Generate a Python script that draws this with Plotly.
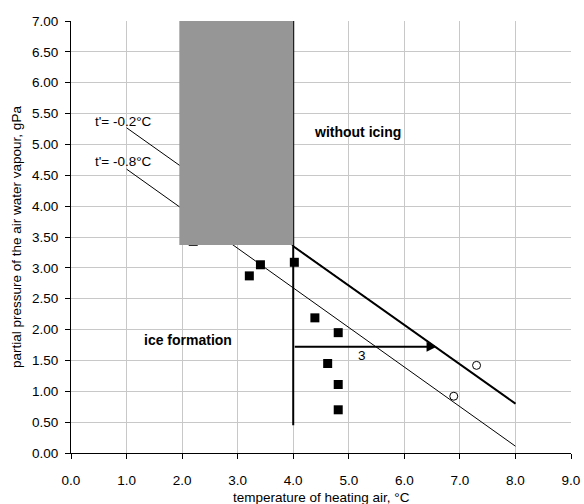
import plotly.graph_objects as go

# Data
squares_x = [2.2, 3.21, 3.41, 4.02, 4.39, 4.81, 4.62, 4.81, 4.81]
squares_y = [3.43, 2.87, 3.05, 3.09, 2.19, 1.95, 1.45, 1.11, 0.70]
circles_x = [6.89, 7.30]
circles_y = [0.92, 1.42]

line_02_x = [1.0, 8.0]
line_02_y = [5.27, 0.80]
line_02_thick_x = [4.0, 8.0]
line_02_thick_y = [3.35, 0.80]
line_08_x = [1.0, 8.0]
line_08_y = [4.60, 0.11]
boundary_x = [4.0, 4.0]
boundary_y = [0.45, 7.0]
arrow_x = [4.0, 6.58]
arrow_y = [1.72, 1.72]
cover_x = [1.95, 4.0]
cover_y = [3.37, 7.0]

x_ticks = [0, 1, 2, 3, 4, 5, 6, 7, 8, 9]
y_ticks = [0, 0.5, 1, 1.5, 2, 2.5, 3, 3.5, 4, 4.5, 5, 5.5, 6, 6.5, 7]

FONT = "Liberation Sans, Arial, sans-serif"
FS = 13.5

fig = go.Figure()
fig.add_trace(go.Scatter(x=line_02_x, y=line_02_y, mode="lines",
                         line=dict(color="black", width=1), showlegend=False))
fig.add_trace(go.Scatter(x=line_08_x, y=line_08_y, mode="lines",
                         line=dict(color="black", width=1), showlegend=False))
fig.add_trace(go.Scatter(x=line_02_thick_x, y=line_02_thick_y, mode="lines",
                         line=dict(color="black", width=2), showlegend=False))
fig.add_trace(go.Scatter(x=boundary_x, y=boundary_y, mode="lines",
                         line=dict(color="black", width=2), showlegend=False))
fig.add_trace(go.Scatter(x=squares_x, y=squares_y, mode="markers",
                         marker=dict(symbol="square", size=9, color="black"),
                         showlegend=False))
fig.add_trace(go.Scatter(x=circles_x, y=circles_y, mode="markers",
                         marker=dict(symbol="circle-open", size=8, color="black",
                                     line=dict(width=1)),
                         showlegend=False))

fig.add_shape(type="rect", x0=cover_x[0], x1=cover_x[1], y0=cover_y[0], y1=cover_y[1],
              xref="x", yref="y", fillcolor="#969696", line=dict(width=0), layer="above")

fig.add_annotation(x=arrow_x[1], y=arrow_y[1], ax=arrow_x[0], ay=arrow_y[0],
                   xref="x", yref="y", axref="x", ayref="y", text="",
                   showarrow=True, arrowhead=2, arrowsize=1, arrowwidth=2,
                   arrowcolor="black", standoff=0)

texts = [
    dict(x=5.23, y=1.58, text="3", anchor="center", size=FS),
    dict(x=4.33, y=5.2, text="<b>without icing</b>", anchor="left", size=14),
    dict(x=1.27, y=1.83, text="<b>ice formation</b>", anchor="left", size=14),
    dict(x=0.39, y=5.37, text="t'= -0.2°C", anchor="left", size=FS),
    dict(x=0.39, y=4.73, text="t'= -0.8°C", anchor="left", size=FS),
]
for t in texts:
    fig.add_annotation(x=t["x"], y=t["y"], xref="x", yref="y", text=t["text"],
                       showarrow=False, xanchor=t["anchor"], yanchor="middle",
                       font=dict(family=FONT, size=t["size"], color="black"))

# axis titles
fig.add_annotation(x=0.5, y=0, xref="paper", yref="paper", yanchor="middle",
                   xanchor="center", yshift=-44, showarrow=False,
                   text="temperature of heating air, °C",
                   font=dict(family=FONT, size=FS, color="black"))
fig.add_annotation(x=0, y=0.5, xref="paper", yref="paper", yanchor="middle",
                   xanchor="center", xshift=-55, showarrow=False, textangle=-90,
                   text="partial pressure of the air water vapour, gPa",
                   font=dict(family=FONT, size=FS, color="black"))

fig.update_layout(
    width=584, height=504,
    margin=dict(l=71, r=13, t=21, b=51, autoexpand=False),
    paper_bgcolor="white", plot_bgcolor="white",
    font=dict(family=FONT, size=FS, color="black"),
    xaxis=dict(range=[0, 9], tickvals=x_ticks, tickformat=".1f",
               showgrid=True, gridcolor="#c8c8c8", gridwidth=1,
               showline=True, linecolor="black", linewidth=1,
               ticks="outside", ticklen=5, tickcolor="black",
               ticklabelstandoff=10,
               zeroline=False, automargin=False),
    yaxis=dict(range=[0, 7], tickvals=y_ticks, tickformat=".2f",
               showgrid=True, gridcolor="#c8c8c8", gridwidth=1,
               showline=True, linecolor="black", linewidth=1,
               ticks="outside", ticklen=5, tickcolor="black",
               ticklabelstandoff=4,
               zeroline=False, automargin=False),
)

fig.write_html("out.html", config={"displayModeBar": False},
               post_script="document.body.style.margin='0';")
